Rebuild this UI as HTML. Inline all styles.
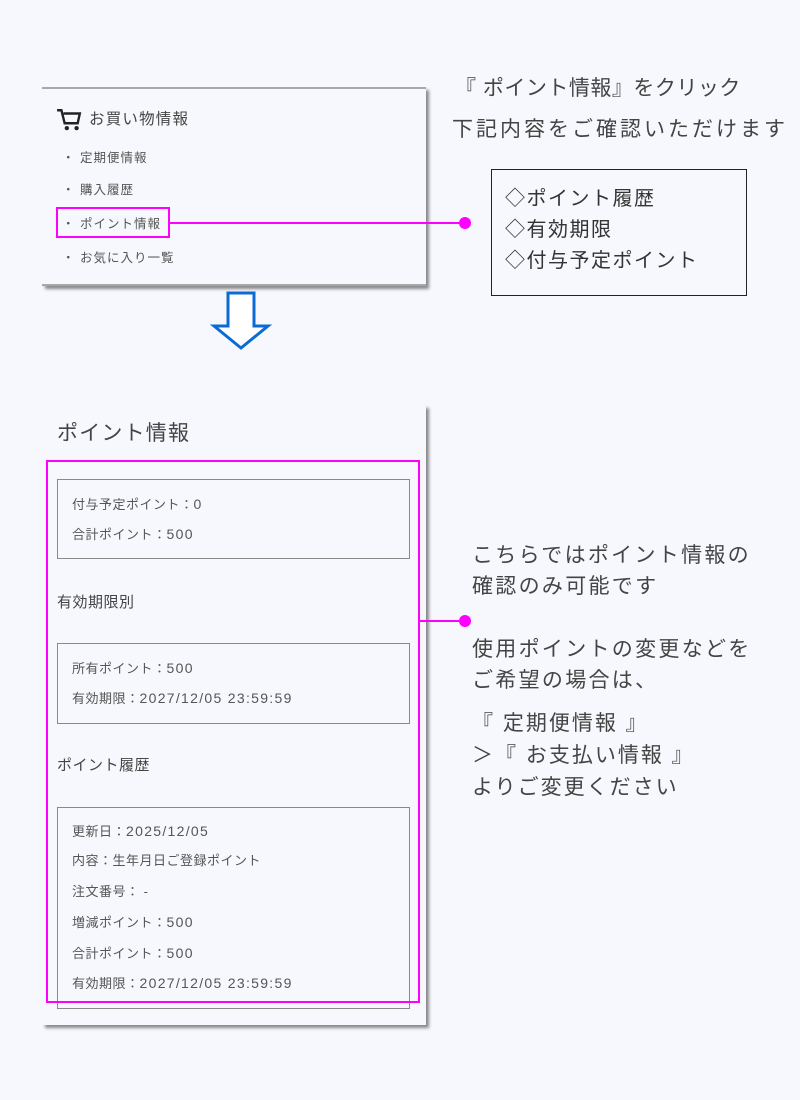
<!DOCTYPE html>
<html><head><meta charset="utf-8"><style>
body{margin:0;width:800px;height:1100px;background:#f7f8fd;position:relative;overflow:hidden;font-family:"Liberation Sans","Noto Sans CJK JP",sans-serif;color:#444}
.a{position:absolute;white-space:nowrap}
.t{position:absolute;white-space:nowrap;line-height:20px}
.panel{position:absolute;background:#f7f8fd;box-shadow:3px 3px 3px rgba(0,0,0,.45)}
.box{position:absolute;border:1px solid #8a8a8a;box-sizing:border-box}
.s{font-size:13px;color:#555;letter-spacing:.5px}
.s b{font-weight:normal;font-size:14px;letter-spacing:1.3px}
.m{font-size:12.5px;color:#555;letter-spacing:1px}
.r{font-size:21px;color:#444;line-height:30px}
</style></head><body>
<!-- top panel -->
<div class="panel" style="left:42px;top:87px;width:384px;height:199px;border-top:2px solid #a8a8a8;border-bottom:2px solid #a8a8a8;box-sizing:border-box"></div>
<svg class="a" style="left:56px;top:108px" width="26" height="24" viewBox="0 0 24 22"><path d="M1 2h4l3 12h12l2-9H7" fill="none" stroke="#222" stroke-width="2.2"/><circle cx="10" cy="18.5" r="2" fill="#222"/><circle cx="19" cy="18.5" r="2" fill="#222"/></svg>
<div class="t" style="left:89px;top:110px;font-size:15.5px;color:#444;letter-spacing:1.2px">お買い物情報</div>
<div class="t m" style="left:62px;top:148px">・ 定期便情報</div>
<div class="t m" style="left:62px;top:180px">・ 購入履歴</div>
<div class="t m" style="left:62px;top:214px">・ ポイント情報</div>
<div class="t m" style="left:62px;top:248px">・ お気に入り一覧</div>
<div class="a" style="left:56px;top:207px;width:114px;height:31px;border:2px solid #f0f;box-sizing:border-box"></div>
<div class="a" style="left:170px;top:222px;width:295px;height:2px;background:#f0f"></div>
<div class="a" style="left:459px;top:217px;width:12px;height:12px;border-radius:50%;background:#f0f"></div>
<!-- arrow -->
<svg class="a" style="left:210px;top:290px" width="62" height="62"><path d="M18 3h26v33h14L31 58 4 36h14z" fill="#fff" stroke="#0a6bd4" stroke-width="3"/></svg>
<!-- top right texts -->
<div class="t r" style="left:455px;top:74px;letter-spacing:.5px">『 ポイント情報』をクリック</div>
<div class="t r" style="left:452px;top:115px;letter-spacing:3px">下記内容をご確認いただけます</div>
<div class="a" style="left:491px;top:169px;width:256px;height:127px;border:1px solid #222;box-sizing:border-box"></div>
<div class="t" style="left:505px;top:184px;font-size:20px;line-height:31px;color:#333;letter-spacing:1.5px">◇ポイント履歴<br>◇有効期限<br>◇付与予定ポイント</div>
<!-- bottom panel -->
<div class="panel" style="left:42px;top:405px;width:384px;height:620px"></div>
<div class="t" style="left:57px;top:421px;font-size:21px;line-height:26px;color:#444;letter-spacing:1.2px">ポイント情報</div>
<div class="box" style="left:57px;top:479px;width:353px;height:80px"></div>
<div class="t s" style="left:72px;top:494px">付与予定ポイント：<b>0</b></div>
<div class="t s" style="left:72px;top:524px">合計ポイント：<b>500</b></div>
<div class="t" style="left:57px;top:593px;font-size:15px;color:#444;letter-spacing:.5px">有効期限別</div>
<div class="box" style="left:57px;top:643px;width:353px;height:81px"></div>
<div class="t s" style="left:72px;top:658px">所有ポイント：<b>500</b></div>
<div class="t s" style="left:72px;top:688px">有効期限：<b>2027/12/05 23:59:59</b></div>
<div class="t" style="left:57px;top:756px;font-size:15px;color:#444;letter-spacing:.5px">ポイント履歴</div>
<div class="box" style="left:57px;top:807px;width:353px;height:202px"></div>
<div class="t s" style="left:72px;top:821px">更新日：<b>2025/12/05</b></div>
<div class="t s" style="left:72px;top:851px">内容：生年月日ご登録ポイント</div>
<div class="t s" style="left:72px;top:882px">注文番号： -</div>
<div class="t s" style="left:72px;top:912px">増減ポイント：<b>500</b></div>
<div class="t s" style="left:72px;top:943px">合計ポイント：<b>500</b></div>
<div class="t s" style="left:72px;top:973px">有効期限：<b>2027/12/05 23:59:59</b></div>
<div class="a" style="left:46px;top:460px;width:374px;height:543px;border:2px solid #f0f;box-sizing:border-box"></div>
<div class="a" style="left:420px;top:620px;width:45px;height:2px;background:#f0f"></div>
<div class="a" style="left:459px;top:615px;width:12px;height:12px;border-radius:50%;background:#f0f"></div>
<!-- right texts -->
<div class="t r" style="left:472px;top:540px;line-height:31px;letter-spacing:2.3px">こちらではポイント情報の<br>確認のみ可能です</div>
<div class="t r" style="left:472px;top:634px;line-height:31px;letter-spacing:2.3px">使用ポイントの変更などを<br>ご希望の場合は、</div>
<div class="t r" style="left:472px;top:708px;line-height:32px;letter-spacing:2px">『 定期便情報 』<br>＞『 お支払い情報 』<br>よりご変更ください</div>
</body></html>
